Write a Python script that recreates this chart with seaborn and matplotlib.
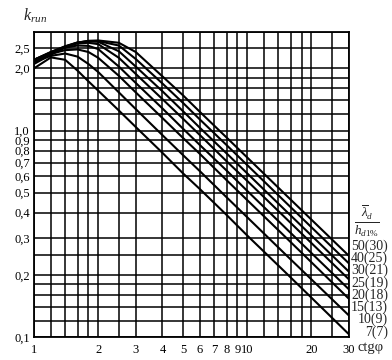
import numpy as np
import pandas as pd
import matplotlib
matplotlib.use("Agg")
import matplotlib.pyplot as plt
import seaborn as sns
from matplotlib.ticker import FixedLocator, FixedFormatter, NullLocator

# ---- data ----
ctg = [1, 1.2, 1.4, 1.6, 1.8, 2, 2.5, 3, 4, 5, 6, 8, 10, 15, 20, 30]
k_7 = [2.00, 2.26, 2.20, 1.95, 1.73, 1.56, 1.25, 1.04, 0.78, 0.62, 0.52, 0.39, 0.31, 0.207, 0.155, 0.103]
k_10 = [2.15, 2.30, 2.36, 2.28, 2.10, 1.92, 1.53, 1.27, 0.95, 0.76, 0.635, 0.475, 0.38, 0.253, 0.19, 0.127]
k_15 = [2.20, 2.35, 2.45, 2.47, 2.40, 2.25, 1.84, 1.53, 1.15, 0.92, 0.77, 0.575, 0.46, 0.307, 0.23, 0.153]
k_20 = [2.20, 2.38, 2.52, 2.58, 2.57, 2.48, 2.04, 1.70, 1.28, 1.02, 0.85, 0.64, 0.51, 0.34, 0.255, 0.17]
k_25 = [2.20, 2.40, 2.55, 2.64, 2.66, 2.62, 2.25, 1.88, 1.42, 1.14, 0.95, 0.71, 0.57, 0.38, 0.285, 0.19]
k_30 = [2.20, 2.40, 2.56, 2.67, 2.70, 2.69, 2.42, 2.04, 1.55, 1.24, 1.03, 0.775, 0.62, 0.413, 0.31, 0.207]
k_40 = [2.15, 2.37, 2.55, 2.67, 2.71, 2.71, 2.58, 2.22, 1.69, 1.36, 1.13, 0.85, 0.68, 0.453, 0.34, 0.227]
k_50 = [2.10, 2.33, 2.52, 2.66, 2.72, 2.73, 2.66, 2.40, 1.83, 1.48, 1.23, 0.925, 0.74, 0.493, 0.37, 0.247]

curve_labels = ["7(7)", "10(9)", "15(13)", "20(18)", "25(19)", "30(21)", "40(25)", "50(30)"]
curve_values = [k_7, k_10, k_15, k_20, k_25, k_30, k_40, k_50]

x_ticks = [1, 2, 3, 4, 5, 6, 7, 8, 9, 10, 20, 30]
x_tick_labels = ["1", "2", "3", "4", "5", "6", "7", "8", "9", "10", "20", "30"]
y_ticks = [0.1, 0.2, 0.3, 0.4, 0.5, 0.6, 0.7, 0.8, 0.9, 1.0, 2.0, 2.5]
y_tick_labels = ["0,1", "0,2", "0,3", "0,4", "0,5", "0,6", "0,7", "0,8", "0,9", "1,0", "2,0", "2,5"]
x_grid = [1, 1.2, 1.4, 1.6, 1.8, 2, 2.5, 3, 4, 5, 6, 7, 8, 9, 10, 12, 14, 16, 18, 20, 25, 30]
y_grid = [0.1, 0.12, 0.14, 0.16, 0.18, 0.2, 0.25, 0.3, 0.4, 0.5, 0.6, 0.7, 0.8, 0.9,
          1.0, 1.2, 1.4, 1.6, 1.8, 2.0, 2.5, 3.0]

# ---- build long-form table ----
df = pd.concat(
    [pd.DataFrame({"ctg": ctg, "k": vals, "curve": lab}) for lab, vals in zip(curve_labels, curve_values)],
    ignore_index=True,
)

sns.set_style("white")
plt.rcParams["font.family"] = ["Liberation Serif", "DejaVu Serif"]
plt.rcParams["mathtext.fontset"] = "custom"
plt.rcParams["mathtext.rm"] = "Liberation Serif"
plt.rcParams["mathtext.it"] = "Liberation Serif:italic"
plt.rcParams["mathtext.bf"] = "Liberation Serif:bold"

W, H = 392, 360
fig = plt.figure(figsize=(W / 100, H / 100), dpi=100)
ax = fig.add_axes([34 / W, 1 - 337 / H, 315 / W, 305 / H])

sns.lineplot(data=df, x="ctg", y="k", hue="curve", palette=["black"] * len(curve_labels),
             legend=False, linewidth=1.5, estimator=None, sort=False, ax=ax, zorder=3)

ax.set_xscale("log")
ax.set_yscale("log")
ax.set_xlim(1, 30)
ax.set_ylim(0.1, 3.0)

for v in x_grid:
    ax.axvline(v, color="black", lw=1.1, zorder=1)
for v in y_grid:
    ax.axhline(v, color="black", lw=1.1, zorder=1)

ax.xaxis.set_major_locator(FixedLocator(x_ticks))
ax.xaxis.set_major_formatter(FixedFormatter(x_tick_labels))
ax.xaxis.set_minor_locator(NullLocator())
ax.yaxis.set_major_locator(FixedLocator(y_ticks))
ax.yaxis.set_major_formatter(FixedFormatter(y_tick_labels))
ax.yaxis.set_minor_locator(NullLocator())
ax.tick_params(axis="both", length=0, labelsize=9, colors="black")
ax.tick_params(axis="x", pad=5)
ax.tick_params(axis="y", pad=3)
ax.set_xlabel("")
ax.set_ylabel("")
for s in ax.spines.values():
    s.set_color("black")
    s.set_linewidth(1.3)

# axis titles
fig.text(23 / W, 1 - 16 / H, r"$k_{run}$", fontsize=11.5, ha="left", va="center")
fig.text(357 / W, 1 - 348 / H, "ctgφ", fontsize=10.5, ha="left", va="center")

# legend-like header and curve labels
fig.text(367 / W, 1 - 221 / H, r"$\frac{\overline{\lambda}_d}{h_{d1\%}}$", fontsize=13.5,
         ha="center", va="center")
y0, step = 332, 12.3
for i, lab in enumerate(curve_labels):
    fig.text(388 / W, 1 - (y0 - i * step) / H, lab, fontsize=10, ha="right", va="center")

fig.savefig("out.png", dpi=100)
